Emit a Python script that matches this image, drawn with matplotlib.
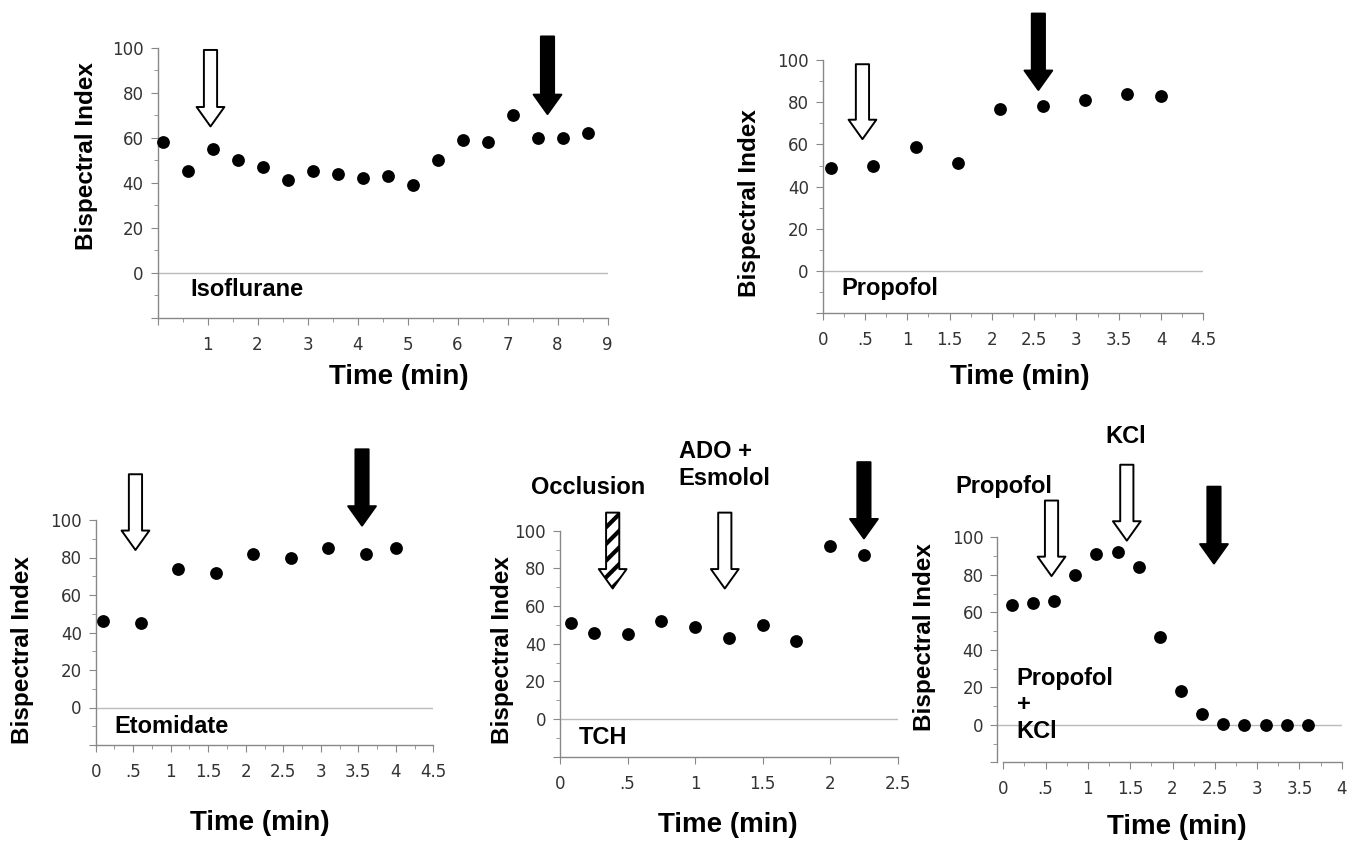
import matplotlib
matplotlib.use('Agg')
import matplotlib.pyplot as plt

plt.rcParams['hatch.linewidth'] = 3.0

W, H = 1351, 842

# Isoflurane
iso_t = [0.1, 0.6, 1.1, 1.6, 2.1, 2.6, 3.1, 3.6, 4.1, 4.6, 5.1, 5.6, 6.1, 6.6, 7.1, 7.6, 8.1, 8.6]
iso_bis = [58, 45, 55, 50, 47, 41, 45, 44, 42, 43, 39, 50, 59, 58, 70, 60, 60, 62]

# Propofol
pro_t = [0.1, 0.6, 1.1, 1.6, 2.1, 2.6, 3.1, 3.6, 4.0]
pro_bis = [49, 50, 59, 51, 77, 78, 81, 84, 83]

# Etomidate
eto_t = [0.1, 0.6, 1.1, 1.6, 2.1, 2.6, 3.1, 3.6, 4.0]
eto_bis = [46, 45, 74, 72, 82, 80, 85, 82, 85]

# TCH
tch_t = [0.08, 0.25, 0.5, 0.75, 1.0, 1.25, 1.5, 1.75, 2.0, 2.25]
tch_bis = [51, 45.5, 45, 52, 49, 43, 50, 41.5, 92, 87]

# Propofol + KCl
kcl_t = [0.1, 0.35, 0.6, 0.85, 1.1, 1.35, 1.6, 1.85, 2.1, 2.35, 2.6, 2.85, 3.1, 3.35, 3.6]
kcl_bis = [64, 65, 66, 80, 91, 92, 84, 47, 18, 6, 0.5, 0, 0, 0, 0]

y_ticks = [-20, 0, 20, 40, 60, 80, 100]
y_labels = ['', '0', '20', '40', '60', '80', '100']

BOLD = dict(family='Liberation Sans', weight='bold', color='black')
TICKC = '#333333'
AXC = '#888888'
LBL = 17


def make_axes(fig, x0, x1, y_top, y_bot):
    # pixel box -> figure fraction
    ax = fig.add_axes([x0 / W, (H - y_bot) / H, (x1 - x0) / W, (y_bot - y_top) / H])
    ax.box = (x0, x1, y_top, y_bot)
    for s in ['top', 'right']:
        ax.spines[s].set_visible(False)
    for s in ['left', 'bottom']:
        ax.spines[s].set_color(AXC)
        ax.spines[s].set_linewidth(1.0)
    ax.set_ylim(-20, 100)
    ax.set_yticks(y_ticks, y_labels)
    ax.set_yticks(range(-10, 100, 20), minor=True)
    ax.tick_params(which='both', colors=AXC, labelcolor=TICKC, labelsize=12)
    ax.tick_params(axis='y', which='major', length=5, pad=5)
    ax.tick_params(axis='y', which='minor', length=3)
    ax.tick_params(axis='x', which='major', length=5, pad=8)
    ax.tick_params(axis='x', which='minor', length=3)
    ax.axhline(0, color='#bbbbbb', lw=1.0, zorder=1)
    return ax


def place_labels(ax, xl, yl):
    x0, x1, y_top, y_bot = ax.box
    ax.set_xlabel('Time (min)', fontsize=20, va='center', **BOLD)
    ax.xaxis.set_label_coords((xl[0] - x0) / (x1 - x0), (y_bot - xl[1]) / (y_bot - y_top))
    ax.set_ylabel('Bispectral Index', fontsize=17.5, va='center', **BOLD)
    ax.yaxis.set_label_coords((yl[0] - x0) / (x1 - x0), (y_bot - yl[1]) / (y_bot - y_top))


def arrow(ax, x, top, tip, fc='white', hatch=None):
    ax.annotate('', xy=(x, tip), xytext=(x, top), annotation_clip=False,
                arrowprops=dict(arrowstyle='simple,head_length=14,head_width=20,tail_width=9.5',
                                mutation_scale=1, fc=fc, ec='black', lw=1.4,
                                hatch=hatch, shrinkA=0, shrinkB=0))


def dots(ax, t, v):
    ax.scatter(t, v, s=85, c='black', zorder=4, clip_on=False, linewidths=0)


fig = plt.figure(figsize=(W / 100, H / 100), dpi=100)

# --- Isoflurane
ax1 = make_axes(fig, 157.5, 607.5, 47.7, 317.7)
ax1.set_xlim(0, 9)
ax1.set_xticks(range(0, 10), [''] + [str(i) for i in range(1, 10)])
ax1.set_xticks([i + 0.5 for i in range(9)], minor=True)
dots(ax1, iso_t, iso_bis)
arrow(ax1, 1.06, 99, 65)
arrow(ax1, 7.8, 105, 70.5, fc='black')
ax1.text(0.65, -7.5, 'Isoflurane', fontsize=LBL, va='center', ha='left', **BOLD)
place_labels(ax1, (399, 377), (87, 156))

half_ticks = ['0', '.5', '1', '1.5', '2', '2.5', '3', '3.5', '4', '4.5']

# --- Propofol
ax2 = make_axes(fig, 822.7, 1203.3, 60, 313.3)
ax2.set_xlim(0, 4.5)
ax2.set_xticks([i * 0.5 for i in range(10)], half_ticks)
ax2.set_xticks([0.25 + i * 0.5 for i in range(9)], minor=True)
dots(ax2, pro_t, pro_bis)
arrow(ax2, 0.47, 98, 62.5)
arrow(ax2, 2.55, 122, 85.8, fc='black')
ax2.text(0.22, -8.3, 'Propofol', fontsize=LBL, va='center', ha='left', **BOLD)
place_labels(ax2, (1020, 377), (750, 203))

# --- Etomidate
ax3 = make_axes(fig, 95.7, 433.3, 520, 745)
ax3.set_xlim(0, 4.5)
ax3.set_xticks([i * 0.5 for i in range(10)], half_ticks)
ax3.set_xticks([0.25 + i * 0.5 for i in range(9)], minor=True)
dots(ax3, eto_t, eto_bis)
arrow(ax3, 0.53, 124.4, 84)
arrow(ax3, 3.55, 137.7, 97, fc='black')
ax3.text(0.25, -10, 'Etomidate', fontsize=LBL, va='center', ha='left', **BOLD)
place_labels(ax3, (260, 823), (22, 650))

# --- TCH
ax4 = make_axes(fig, 560, 897.7, 530.7, 756.7)
ax4.set_xlim(0, 2.5)
ax4.set_xticks([i * 0.5 for i in range(6)], half_ticks[:6])
dots(ax4, tch_t, tch_bis)
arrow(ax4, 0.39, 109.6, 69.3, hatch='//')
arrow(ax4, 1.22, 109.6, 69.3)
arrow(ax4, 2.25, 136.4, 95.9, fc='black')
ax4.text(0.14, -10, 'TCH', fontsize=LBL, va='center', ha='left', **BOLD)
ax4.text(0.21, 122.7, 'Occlusion', fontsize=LBL, va='center', ha='center', **BOLD)
ax4.text(0.88, 135, 'ADO +\nEsmolol', fontsize=LBL, va='center', ha='left',
         linespacing=1.2, **BOLD)
place_labels(ax4, (728, 825), (502, 650))

# --- Propofol + KCl
ax5 = make_axes(fig, 997.3, 1341.7, 537.3, 762.3)
ax5.set_xlim(-0.071, 4)
ax5.spines['bottom'].set_bounds(0, 4)
ax5.set_xticks([i * 0.5 for i in range(9)], half_ticks[:9])
ax5.set_xticks([0.25 + i * 0.5 for i in range(8)], minor=True)
dots(ax5, kcl_t, kcl_bis)
arrow(ax5, 0.57, 119.6, 79.3)
arrow(ax5, 1.46, 138.7, 98.2)
arrow(ax5, 2.49, 127, 86, fc='black')
ax5.text(-0.57, 127, 'Propofol', fontsize=LBL, va='center', ha='left', **BOLD)
ax5.text(1.45, 154, 'KCl', fontsize=LBL, va='center', ha='center', **BOLD)
ax5.text(0.16, 10.7, 'Propofol\n+\nKCl', fontsize=LBL, va='center', ha='left',
         linespacing=1.2, **BOLD)
place_labels(ax5, (1177, 827), (925, 637))

fig.savefig('out.png', dpi=100)
